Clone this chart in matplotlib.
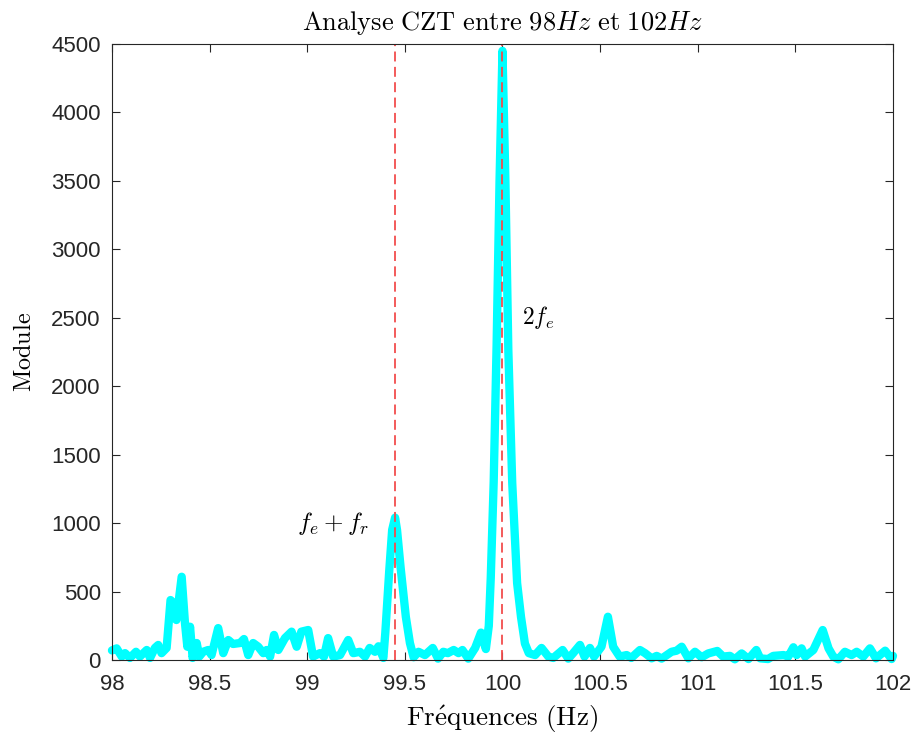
import matplotlib
matplotlib.use('Agg')
import matplotlib.pyplot as plt

plt.rcParams['mathtext.fontset'] = 'cm'
plt.rcParams['font.family'] = ['Liberation Sans', 'DejaVu Sans']

freq = [98.000, 98.024, 98.05, 98.067, 98.092, 98.123, 98.143, 98.178, 98.195, 98.22,
        98.237, 98.254, 98.28, 98.30, 98.314, 98.33, 98.357, 98.374, 98.386, 98.40,
        98.413, 98.434, 98.447, 98.467, 98.493, 98.51, 98.544, 98.57, 98.596, 98.62,
        98.656, 98.676, 98.698, 98.723, 98.749, 98.775, 98.792, 98.81, 98.83, 98.852,
        98.886, 98.92, 98.946, 98.97, 99.005, 99.03, 99.065, 99.086, 99.107, 99.133,
        99.168, 99.21, 99.236, 99.27, 99.296, 99.32, 99.347, 99.365, 99.39, 99.40,
        99.42, 99.435, 99.45, 99.46, 99.478, 99.505, 99.526, 99.545, 99.57, 99.603,
        99.643, 99.67, 99.697, 99.72, 99.75, 99.775, 99.795, 99.825, 99.86, 99.89,
        99.915, 99.93, 99.94, 99.955, 99.97, 99.985, 100.0, 100.015, 100.03, 100.05,
        100.075, 100.095, 100.115, 100.135, 100.167, 100.2, 100.235, 100.26, 100.308, 100.337,
        100.362, 100.397, 100.42, 100.448, 100.469, 100.507, 100.54, 100.567, 100.6, 100.636,
        100.66, 100.704, 100.73, 100.764, 100.79, 100.815, 100.866, 100.892, 100.918, 100.952,
        100.986, 101.02, 101.054, 101.1, 101.13, 101.165, 101.19, 101.225, 101.26, 101.3,
        101.32, 101.36, 101.387, 101.44, 101.464, 101.49, 101.507, 101.532, 101.55, 101.592,
        101.64, 101.67, 101.694, 101.72, 101.754, 101.788, 101.814, 101.848, 101.882, 101.913,
        101.96, 101.993, 102.0]
module = [70, 85, 25, 50, 15, 60, 25, 73, 15, 88,
          110, 50, 88, 438, 415, 292, 608, 268, 97, 243,
          15, 124, 25, 60, 73, 36, 233, 50, 146, 117,
          124, 153, 36, 124, 97, 50, 73, 25, 183, 73,
          160, 207, 97, 207, 219, 25, 50, 25, 160, 25,
          36, 146, 50, 60, 25, 88, 60, 100, 15, 200,
          650, 950, 1040, 950, 680, 316, 124, 20, 60, 36,
          88, 10, 60, 50, 73, 50, 73, 10, 88, 200,
          80, 250, 600, 1300, 2300, 3500, 4450, 3500, 2264, 1293,
          562, 314, 120, 50, 36, 88, 25, 15, 73, 10,
          50, 110, 25, 88, 25, 97, 316, 97, 25, 36,
          15, 73, 50, 12, 30, 10, 60, 68, 97, 12,
          60, 20, 48, 66, 25, 30, 5, 48, 7, 73,
          12, 7, 30, 36, 25, 93, 36, 85, 25, 73,
          219, 85, 25, 5, 60, 36, 60, 25, 85, 12,
          68, 7, 30]

# Raies repérées
f_raies = [99.45, 100.0]

fig = plt.figure(figsize=(9.17, 7.33), dpi=100)
ax = fig.add_axes([0.1221, 0.0996, 0.8517, 0.8404])

ax.plot(freq, module, color=(0, 1, 1), lw=6, solid_joinstyle='round',
        solid_capstyle='round', clip_on=False, zorder=2)
for f in f_raies:
    ax.axvline(f, color='#f24d4d', lw=1.3, dashes=(5.5, 3), zorder=3)

ax.text(99.13, 1000, r'$f_e + f_r$', fontsize=18, ha='center', va='center')
ax.text(100.1, 2500, r'$2f_e$', fontsize=17, ha='left', va='center')

ax.set_xlim(98, 102)
ax.set_ylim(0, 4500)
ax.set_xticks([98, 98.5, 99, 99.5, 100, 100.5, 101, 101.5, 102])
ax.set_xticklabels(['98', '98.5', '99', '99.5', '100', '100.5', '101', '101.5', '102'])
ax.set_yticks(range(0, 4501, 500))

ax.set_title(r'$\mathrm{Analyse\ CZT\ entre\ }98Hz\mathrm{\ et\ }102Hz$', fontsize=19, pad=10)
ax.set_xlabel(r'$\mathrm{Fr\acute{e}quences\ (Hz)}$', fontsize=19.5, labelpad=6)
ax.set_ylabel(r'$\mathrm{Module}$', fontsize=17.5, labelpad=11)

ax.tick_params(direction='in', length=5.6, width=0.8, labelsize=16,
               colors='#262626', top=True, right=True)
ax.tick_params(axis='x', pad=10)
ax.tick_params(axis='y', pad=8)
for s in ax.spines.values():
    s.set_color('#262626')
    s.set_linewidth(0.8)
    s.set_zorder(4)

fig.savefig('out.png', dpi=100)
